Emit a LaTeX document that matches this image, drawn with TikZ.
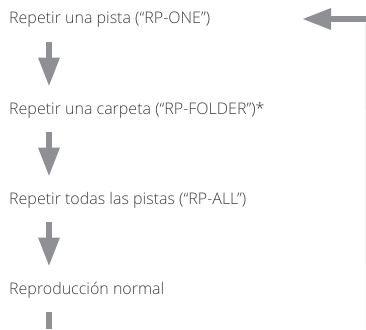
\documentclass[tikz,border=0pt]{standalone}
\usepackage{fontspec}
\setmainfont{Open Sans}[UprightFont={* Light}]
\usetikzlibrary{arrows.meta}
\definecolor{ArrowGray}{RGB}{142,144,147}
\definecolor{TextGray}{RGB}{62,62,64}
\definecolor{EdgeGray}{RGB}{236,237,238}

\begin{document}
\begin{tikzpicture}[
    mode/.style={anchor=base west, inner sep=0pt, text=TextGray, font=\fontsize{16}{18}\selectfont},
    arr/.style={-{Triangle[length=29pt,width=20pt]}, line width=6pt, draw=ArrowGray}
]
    \useasboundingbox (0,0) rectangle (366pt,-329pt);
    \node[mode] (t1) at (9pt,-24pt) {Repetir una pista (“RP-ONE”)};
    \node[mode] (t2) at (9pt,-114pt) {Repetir una carpeta (“RP-FOLDER”)*};
    \node[mode] (t3) at (9pt,-204pt) {Repetir todas las pistas (“RP-ALL”)};
    \node[mode] (t4) at (9pt,-294pt) {Reproducción normal};
    \coordinate (ret) at (366pt,-19pt);
    \coordinate (back) at (302pt,-19pt);
    \coordinate (bot) at (49pt,-329pt);
    \draw[arr] ([xshift=40pt,yshift=-14pt]t1.south west) -- ([xshift=40pt,yshift=15pt]t2.north west);
    \draw[arr] ([xshift=40pt,yshift=-14pt]t2.south west) -- ([xshift=40pt,yshift=15pt]t3.north west);
    \draw[arr] ([xshift=40pt,yshift=-14pt]t3.south west) -- ([xshift=40pt,yshift=15pt]t4.north west);
    \draw[line width=6pt, draw=ArrowGray] ([xshift=40pt,yshift=-14pt]t4.south west) -- (bot);
    \draw[arr] (ret) -- (back);
    \draw[EdgeGray, line width=0.8pt] ([xshift=-0.5pt,yshift=-3pt]ret) -- (bot -| ret);
\end{tikzpicture}
\end{document}
